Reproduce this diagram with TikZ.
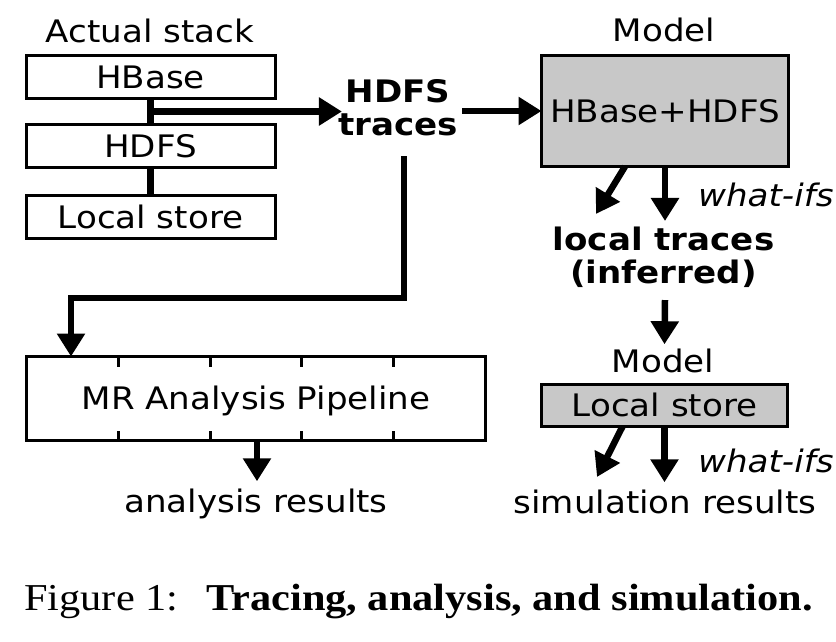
\documentclass[tikz,border=0pt]{standalone}
\usepackage{fontspec}
\usetikzlibrary{arrows.meta,calc}
\newfontfamily\dvfont[FakeStretch=1.1]{DejaVu Sans}
\newfontfamily\capfont[FakeStretch=1.115]{Liberation Serif}
\definecolor{boxgray}{RGB}{200,200,200}
\begin{document}
\begin{tikzpicture}[x=1pt,y=-1pt,
  every node/.style={font=\dvfont\fontsize{31}{32}\selectfont},
  box/.style={draw, line width=3pt, inner sep=0pt, outer sep=0pt, text height=22.6pt, text depth=0pt},
  gbox/.style={box, fill=boxgray},
  conn/.style={line width=6.5pt},
  arr/.style={line width=6.5pt, -{Triangle[length=23pt,width=27pt]}},
  lbl/.style={inner sep=0pt},
  bold/.style={font=\dvfont\bfseries\fontsize{31}{33}\selectfont},
  ital/.style={font=\dvfont\itshape\fontsize{31}{32}\selectfont}
]
\useasboundingbox (0,0) rectangle (836,642);

% actual stack
\node[lbl, anchor=base] (as) at (150,43) {Actual stack};
\node[box, minimum width=249pt, minimum height=43pt] (hbase) at (150.5,76.8) {HBase};
\node[box, minimum width=249pt, minimum height=43pt] (hdfs) at (150.5,146.2) {HDFS};
\node[box, minimum width=249pt, minimum height=43pt] (lstore) at (150.5,216.7) {Local store};
\draw[conn] (hbase.south) -- (hdfs.north);
\draw[conn] (hdfs.south) -- (lstore.north);
\coordinate (mid) at ($(hbase.south)!0.5!(hdfs.north)$);

% HDFS traces
\node[bold, align=center, inner sep=4pt] (tr) at (398,107.7) {HDFS\\traces};
\draw[arr] ([xshift=-3.25pt]mid) -- ($(mid -| tr.west)+(8,0)$);

% model 1
\node[lbl, anchor=base] (m1) at (664,42) {Model};
\node[gbox, minimum width=247pt, minimum height=111pt] (hbhd) at (665,111) {HBase+HDFS};
\draw[arr] (tr.east |- hbhd.west) -- (hbhd.west);

% local traces
\node[bold, align=center, inner sep=4pt] (lt) at (663.5,257.5) {local traces\\(inferred)};
\node[ital, lbl, anchor=base west] (w1) at (698,206) {what-ifs};
\coordinate (d1) at (596,214);
\draw[arr] ([xshift=-40pt]hbhd.south) -- (d1);
\draw[arr] (hbhd.south) -- ([yshift=2pt]hbhd.south |- lt.north);

% model 2
\node[lbl, anchor=base] (m2) at (663,372) {Model};
\draw[arr] ([yshift=-8pt,xshift=1.5pt]lt.south) -- ([yshift=4pt,xshift=1.5pt]m2.north);
\node[gbox, minimum width=246pt, minimum height=42pt] (ls2) at (664.5,405.5) {Local store};
\node[ital, lbl, anchor=base west] (w2) at (698,472) {what-ifs};
\node[lbl, anchor=base] (sim) at (665,513) {simulation results};
\coordinate (d3) at (597,477);
\draw[arr] ([xshift=-42pt]ls2.south) -- (d3);
\draw[arr] (ls2.south) -- ([yshift=7pt]ls2.south |- sim.north);

% MR pipeline
\node[box, minimum width=459pt, minimum height=84pt] (mr) at (256,398.5) {MR Analysis Pipeline};
\foreach \i in {1,2,3,4} {
  \draw[line width=3pt] ($(mr.north west)!\i/5!(mr.north east)$) -- ++(0,10);
  \draw[line width=3pt] ($(mr.south west)!\i/5!(mr.south east)$) -- ++(0,-10);
}
\coordinate (bend) at (71,298);
\draw[arr] ([xshift=6pt,yshift=-16pt]tr.south) |- (bend) -- (bend |- mr.north);
\node[lbl, anchor=base] (ar) at (256,512) {analysis results};
\draw[arr] ([xshift=1pt]mr.south) -- ([xshift=1pt,yshift=7pt]mr.south |- ar.north);

% caption
\node[lbl, anchor=base west, font=\capfont\fontsize{38}{40}\selectfont] (cap) at (24,610)
  {Figure 1:\hspace{28pt}\textbf{Tracing, analysis, and simulation.}};
\end{tikzpicture}
\end{document}
